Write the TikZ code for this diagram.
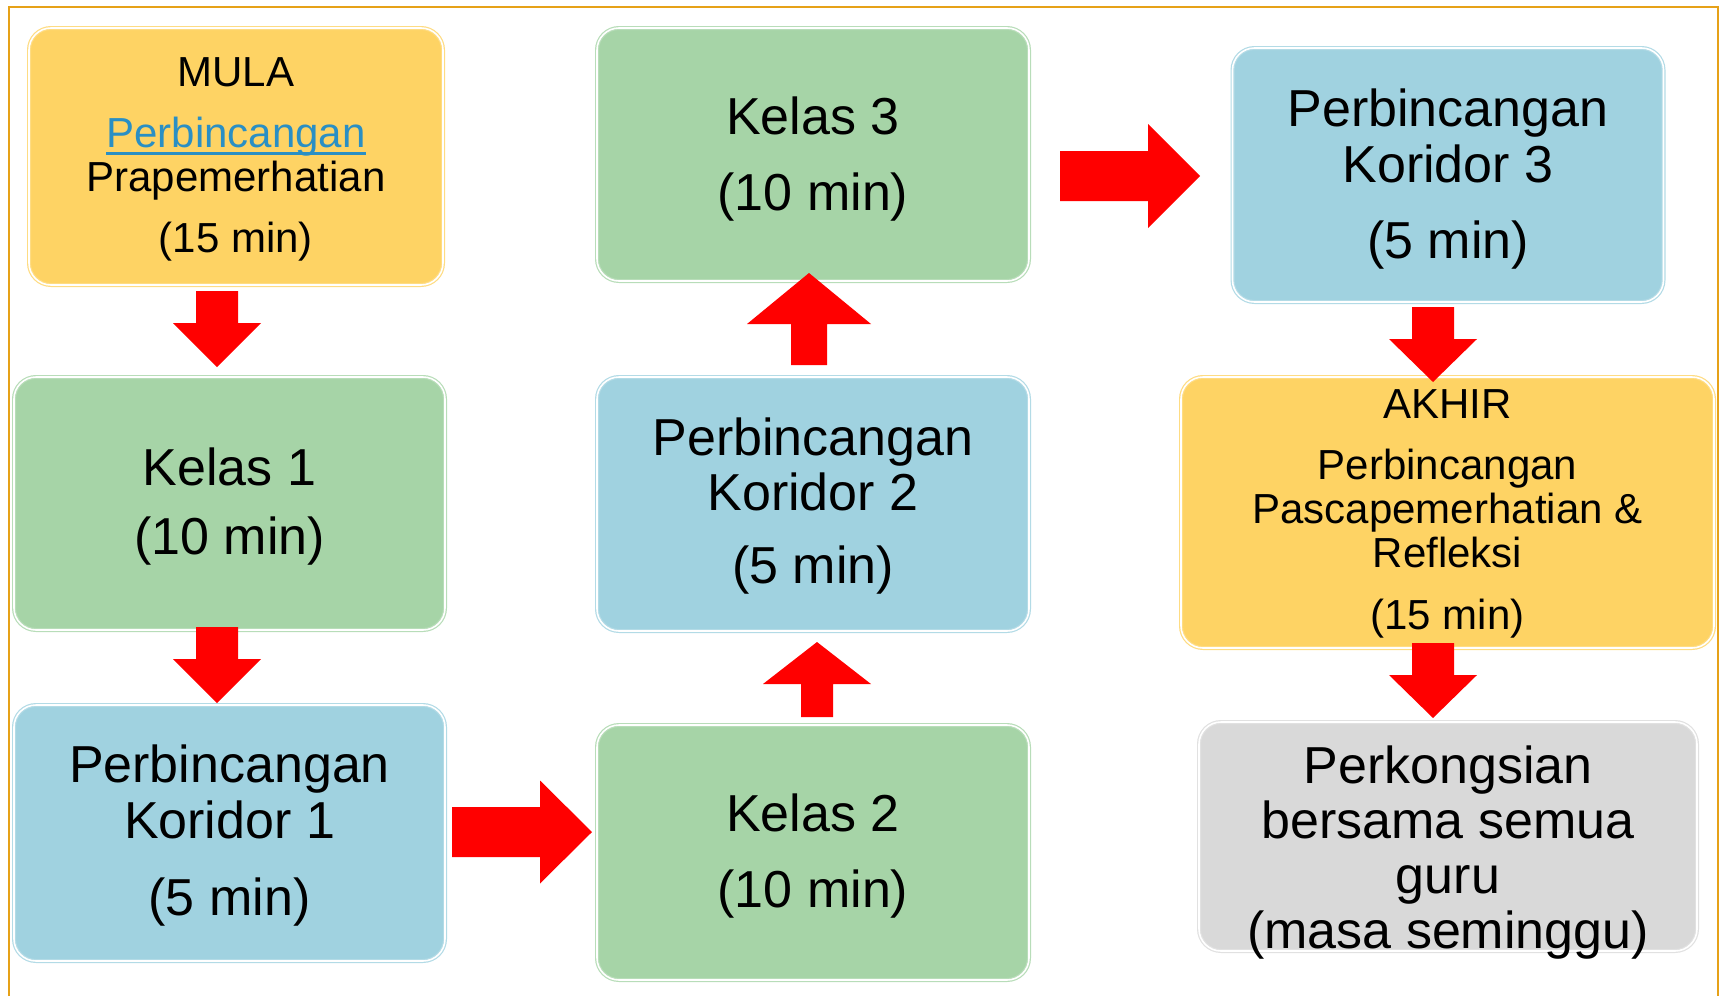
\documentclass[tikz,border=0pt]{standalone}
\usepackage{fontspec}
\setmainfont{Liberation Sans}
\usetikzlibrary{calc}
\definecolor{cyel}{HTML}{FED364}
\definecolor{cgrn}{HTML}{A6D4A7}
\definecolor{cblu}{HTML}{A0D2E0}
\definecolor{cgry}{HTML}{D9D9D9}
\definecolor{cfrm}{HTML}{E6A118}
\definecolor{clink}{HTML}{2A8FC4}
\definecolor{cred}{HTML}{FF0000}
\newcommand\ulinktext[1]{\setbox0=\hbox{#1}\rlap{\rule[-7.5pt]{\wd0}{3pt}}\box0}
\begin{document}
\begin{tikzpicture}[x=1pt, y=1pt,
  box/.style={rectangle, rounded corners=22pt, draw=#1!80!white, fill=#1,
    double=white, double distance=1.6pt, line width=1.2pt, inner sep=0pt},
  big/.style={font=\fontsize{52}{55}\selectfont, align=center, anchor=base, inner sep=0pt},
  small/.style={font=\fontsize{42}{44}\selectfont, align=center, anchor=base, inner sep=0pt},
  blockarrow/.style n args={3}{to path={
    let \p1=(\tikztostart), \p2=(\tikztotarget),
        \n1={atan2(\y2-\y1,\x2-\x1)}, \n2={veclen(\x2-\x1,\y2-\y1)} in
    ($(\p1)+({\n1+90}:{#1/2})$)
    -- ($(\p1)+(\n1:{\n2-#3})+({\n1+90}:{#1/2})$)
    -- ($(\p1)+(\n1:{\n2-#3})+({\n1+90}:{#2/2})$)
    -- (\p2)
    -- ($(\p1)+(\n1:{\n2-#3})+({\n1-90}:{#2/2})$)
    -- ($(\p1)+(\n1:{\n2-#3})+({\n1-90}:{#1/2})$)
    -- ($(\p1)+({\n1-90}:{#1/2})$) -- cycle}}
]
\useasboundingbox (0,0) rectangle (1721,-996);
\draw[cfrm, line width=1.6pt] (9,-996) -- (9,-7) -- (1718,-7) -- (1718,-996);

% boxes
\node[box=cyel, minimum width=414pt, minimum height=257pt] (mula) at (236,-156.5) {};
\node[box=cgrn, minimum width=431pt, minimum height=253pt] (kelas1) at (229.5,-503.5) {};
\node[box=cblu, minimum width=431pt, minimum height=256pt] (kor1) at (229.5,-833) {};
\node[box=cgrn, minimum width=432pt, minimum height=255pt] (kelas2) at (813,-852.5) {};
\node[box=cblu, minimum width=432pt, minimum height=254pt] (kor2) at (813,-504) {};
\node[box=cgrn, minimum width=432pt, minimum height=253pt] (kelas3) at (813,-154.5) {};
\node[box=cblu, minimum width=431pt, minimum height=254pt] (kor3) at (1448,-175) {};
\node[box=cyel, minimum width=533pt, minimum height=271pt] (akhir) at (1447.5,-512.5) {};
\node[box=cgry, minimum width=498pt, minimum height=229pt] (perk) at (1448,-836.5) {};

% texts (anchor = baseline of the last line)
\node[small] (mulat) at (236,-252) {MULA\\[17pt]{\color{clink}\ulinktext{Perbincangan}}\\Prapemerhatian\\[17pt](15 min)};
\node[big] (kelas1t) at (229.5,-554) {Kelas 1\\[14pt](10 min)};
\node[big] (kor1t) at (229.5,-915) {Perbincangan\\[1pt]Koridor 1\\[22pt](5 min)};
\node[big] (kelas2t) at (813,-907) {Kelas 2\\[21pt](10 min)};
\node[big] (kor2t) at (813,-583) {Perbincangan\\Koridor 2\\[18pt](5 min)};
\node[big] (kelas3t) at (813,-210) {Kelas 3\\[21pt](10 min)};
\node[big] (kor3t) at (1448,-258) {Perbincangan\\[1pt]Koridor 3\\[21pt](5 min)};
\node[small] (akhirt) at (1447.5,-629) {AKHIR\\[17pt]Perbincangan\\Pascapemerhatian \&\\Refleksi\\[18pt](15 min)};
\node[big] (perkt) at (1448,-948) {Perkongsian\\bersama semua\\guru\\(masa seminggu)};

% block arrows
\coordinate (a1s) at (217,-291);  \coordinate (a1e) at (217,-367);
\coordinate (a2s) at (217,-627);  \coordinate (a2e) at (217,-703);
\coordinate (a3s) at (452,-832);  \coordinate (a3e) at (592,-832);
\coordinate (a4s) at (817,-717);  \coordinate (a4e) at (817,-642);
\coordinate (a5s) at (809,-365);  \coordinate (a5e) at (809,-273);
\coordinate (a6s) at (1060,-176); \coordinate (a6e) at (1200,-176);
\coordinate (a7s) at (1433,-307); \coordinate (a7e) at (1433,-382);
\coordinate (a8s) at (1433,-643); \coordinate (a8e) at (1433,-718);
\fill[cred] (a1s) to[blockarrow={42}{88}{44}] (a1e);
\fill[cred] (a2s) to[blockarrow={42}{88}{44}] (a2e);
\fill[cred] (a3s) to[blockarrow={50}{103}{52}] (a3e);
\fill[cred] (a4s) to[blockarrow={32}{108}{42}] (a4e);
\fill[cred] (a5s) to[blockarrow={36}{124}{51}] (a5e);
\fill[cred] (a6s) to[blockarrow={50}{104}{52}] (a6e);
\fill[cred] (a7s) to[blockarrow={42}{88}{43}] (a7e);
\fill[cred] (a8s) to[blockarrow={42}{88}{43}] (a8e);
\end{tikzpicture}
\end{document}
